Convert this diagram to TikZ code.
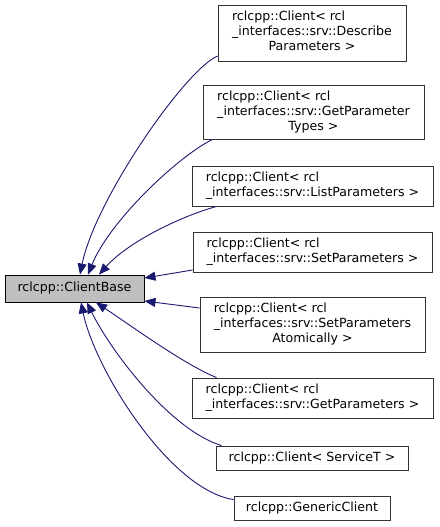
\documentclass[tikz,border=0pt]{standalone}
\usepackage{fontspec}
\setmainfont{DejaVu Sans}
\usetikzlibrary{arrows.meta}
\definecolor{edgeblue}{HTML}{191970}
\definecolor{boxline}{HTML}{333333}
\definecolor{cbfill}{HTML}{BFBFBF}
\newcommand{\twoline}[2]{\begin{tabular}{@{}l@{}}#1\\\multicolumn{1}{@{}c@{}}{#2}\end{tabular}}
\newcommand{\threeline}[3]{\begin{tabular}{@{}l@{}}#1\\#2\\\multicolumn{1}{@{}c@{}}{#3}\end{tabular}}
\begin{document}
\begin{tikzpicture}[x=1pt,y=-1pt,
 cls/.style={draw=boxline, line width=0.9pt, fill=white, inner sep=0pt,
   font=\fontsize{12.6}{15}\selectfont, align=center},
 edge/.style={draw=edgeblue, line width=0.9pt,
   -{Triangle[length=11pt,width=9pt,fill=edgeblue]}}
]
\useasboundingbox (0,0) rectangle (439,527);
\node[cls, fill=cbfill, draw=black, minimum width=139pt, minimum height=27pt] (cb) at (74.5,288.5) {rclcpp::ClientBase};
\node[cls, minimum width=188pt, minimum height=56pt] (desc) at (312,33)
  {\threeline{rclcpp::Client< rcl}{\_interfaces::srv::Describe}{Parameters >}};
\node[cls, minimum width=221pt, minimum height=54pt] (types) at (313.5,112)
  {\threeline{rclcpp::Client< rcl}{\_interfaces::srv::GetParameter}{Types >}};
\node[cls, minimum width=241pt, minimum height=40pt] (list) at (312.5,186)
  {\twoline{rclcpp::Client< rcl}{\_interfaces::srv::ListParameters >}};
\node[cls, minimum width=239pt, minimum height=40pt] (set) at (312.5,252)
  {\twoline{rclcpp::Client< rcl}{\_interfaces::srv::SetParameters >}};
\node[cls, minimum width=225pt, minimum height=55pt] (atom) at (312.5,324.5)
  {\threeline{rclcpp::Client< rcl}{\_interfaces::srv::SetParameters}{Atomically >}};
\node[cls, minimum width=241pt, minimum height=40pt] (getp) at (312.5,398)
  {\twoline{rclcpp::Client< rcl}{\_interfaces::srv::GetParameters >}};
\node[cls, minimum width=192pt, minimum height=24pt] (svc) at (312,458)
  {rclcpp::Client< ServiceT >};
\node[cls, minimum width=156pt, minimum height=24pt] (gen) at (312,508)
  {rclcpp::GenericClient};

\draw[edge] ([yshift=-23pt]desc.west) .. controls (185,70) and (95,200) .. ([xshift=5.5pt]cb.north);
\draw[edge] ([xshift=10pt]types.south west) .. controls (180,155) and (110,220) .. ([xshift=13.5pt]cb.north);
\draw[edge] ([xshift=25pt]list.south west) .. controls (185,215) and (130,240) .. ([xshift=24.5pt]cb.north);
\draw[edge] ([yshift=-18pt]set.west) -- ([yshift=10.5pt]cb.east);
\draw[edge] ([yshift=16.5pt]atom.west) -- ([yshift=-12.5pt]cb.east);
\draw[edge] ([xshift=25pt]getp.north west) .. controls (185,365) and (130,325) .. ([xshift=21.5pt]cb.south);
\draw[edge] ([xshift=6pt]svc.north west) .. controls (170,430) and (110,350) .. ([xshift=12.5pt]cb.south);
\draw[edge] ([yshift=-4pt]gen.north west) .. controls (170,490) and (95,370) .. ([xshift=6.5pt]cb.south);
\end{tikzpicture}
\end{document}
